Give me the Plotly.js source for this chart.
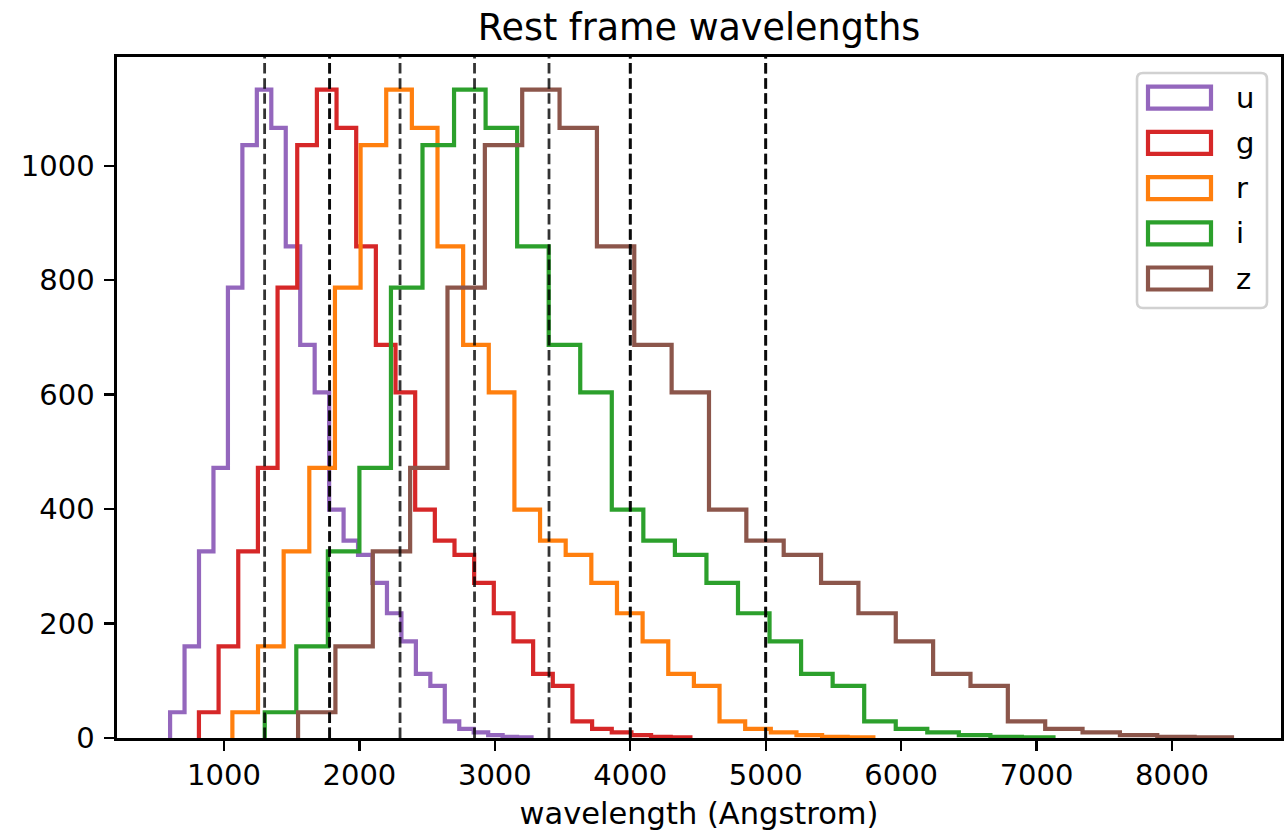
<!DOCTYPE html>
<html>
<head>
<meta charset="utf-8">
<script src="https://cdn.plot.ly/plotly-3.0.1.min.js"></script>
<style>
  html, body { margin: 0; padding: 0; background: #fff; }
  #chart { width: 1288px; height: 833px; }
</style>
</head>
<body>
<div id="chart"></div>
<script>
// Photometric bands and their plotting colours
const bands = ['u', 'g', 'r', 'i', 'z'];
const bandColors = ['#9467bd', '#d62728', '#ff7f0e', '#2ca02c', '#8c564b'];

// Histogram range per band (Angstrom): first and last bin edge
const binStart = [602, 815, 1062, 1301, 1547];
const binEnd = [3271, 4444, 5795, 7125, 8443];

// Objects per bin (25 equal-width bins); every band histograms the same
// objects, so the counts per bin are shared and only the edges move
const binCounts = [45, 160, 326, 472, 787, 1036, 1133, 1066, 859, 687, 604, 399,
                   345, 320, 271, 218, 169, 112, 91, 29, 16, 10, 5, 2, 1];

// Reference wavelengths marked with dashed lines (some drawn twice)
const markerWavelengths = [1300, 1780, 1780, 2300, 2850, 3400, 4000, 4000, 5000, 5000];

const FONT = 'DejaVu Sans, Liberation Sans, sans-serif';

// Figure geometry (pixels)
const W = 1288, H = 833;
const M = { l: 117, r: 7, t: 57, b: 95 };
const plotW = W - M.l - M.r;
const plotH = H - M.t - M.b;
const px2x = px => (px - M.l) / plotW;
const px2y = py => (H - M.b - py) / plotH;

// Step outline of each histogram
const traces = bands.map((band, k) => {
  const n = binCounts.length;
  const width = (binEnd[k] - binStart[k]) / n;
  const edges = binCounts.map((_, i) => binStart[k] + i * width).concat([binEnd[k]]);
  const x = [edges[0]].concat(edges.slice(0, n), [edges[n], edges[n]]);
  const y = [0].concat(binCounts, [binCounts[n - 1], 0]);
  return {
    type: 'scatter',
    mode: 'lines',
    name: band,
    x: x,
    y: y,
    line: { color: bandColors[k], width: 4.2, shape: 'hv' },
    showlegend: false,
    hoverinfo: 'skip'
  };
});

// Dashed vertical markers
const shapes = markerWavelengths.map(w => ({
  type: 'line',
  xref: 'x', yref: 'paper',
  x0: w, x1: w, y0: 0, y1: 1,
  line: { color: 'rgba(0,0,0,0.8)', width: 2.8, dash: '10.5px,4.6px' },
  layer: 'above'
}));

// Legend box with outlined patches
const lg = { left: 1137, right: 1267, top: 73, bottom: 308, r: 6 };
const lx0 = px2x(lg.left), lx1 = px2x(lg.right);
const ly1 = px2y(lg.top), ly0 = px2y(lg.bottom);
const rx = lg.r / plotW, ry = lg.r / plotH;
shapes.push({
  type: 'path',
  xref: 'paper', yref: 'paper',
  path: `M ${lx0 + rx},${ly1} L ${lx1 - rx},${ly1} Q ${lx1},${ly1} ${lx1},${ly1 - ry} ` +
        `L ${lx1},${ly0 + ry} Q ${lx1},${ly0} ${lx1 - rx},${ly0} ` +
        `L ${lx0 + rx},${ly0} Q ${lx0},${ly0} ${lx0},${ly0 + ry} ` +
        `L ${lx0},${ly1 - ry} Q ${lx0},${ly1} ${lx0 + rx},${ly1} Z`,
  line: { color: 'rgba(204,204,204,0.9)', width: 2.6 },
  fillcolor: 'rgba(255,255,255,0.8)',
  layer: 'above'
});

const annotations = [];
bands.forEach((band, k) => {
  const cy = 97.7 + 45.2 * k;
  shapes.push({
    type: 'rect',
    xref: 'paper', yref: 'paper',
    x0: px2x(1148), x1: px2x(1211),
    y0: px2y(cy + 11), y1: px2y(cy - 11),
    line: { color: bandColors[k], width: 4.2 },
    fillcolor: 'rgba(0,0,0,0)',
    layer: 'above'
  });
  annotations.push({
    xref: 'paper', yref: 'paper',
    x: px2x(1234), y: px2y(cy),
    xanchor: 'left', yanchor: 'middle',
    text: band,
    showarrow: false,
    font: { family: FONT, size: 29, color: '#000' }
  });
});

const layout = {
  width: W, height: H,
  margin: M,
  paper_bgcolor: '#fff',
  plot_bgcolor: '#fff',
  font: { family: FONT, size: 29, color: '#000' },
  title: {
    text: 'Rest frame wavelengths',
    font: { family: FONT, size: 36.5, color: '#000' },
    x: 0.5, xref: 'paper', xanchor: 'center',
    y: 1 - 27 / H, yref: 'container', yanchor: 'middle'
  },
  xaxis: {
    range: [210, 8805],
    tickmode: 'linear', tick0: 0, dtick: 1000,
    showgrid: false, zeroline: false,
    showline: true, mirror: true, linecolor: '#000', linewidth: 2.6,
    ticks: 'outside', ticklen: 10, tickwidth: 2.4, tickcolor: '#000',
    tickfont: { family: FONT, size: 29, color: '#000' },
    title: { text: 'wavelength (Angstrom)', font: { family: FONT, size: 30.5, color: '#000' }, standoff: 12 }
  },
  yaxis: {
    range: [0, 1190],
    tickmode: 'linear', tick0: 0, dtick: 200,
    showgrid: false, zeroline: false,
    showline: true, mirror: true, linecolor: '#000', linewidth: 2.6,
    ticks: 'outside', ticklen: 10, tickwidth: 2.4, tickcolor: '#000',
    ticklabelstandoff: 4,
    tickfont: { family: FONT, size: 29, color: '#000' }
  },
  shapes: shapes,
  annotations: annotations,
  showlegend: false
};

Plotly.newPlot('chart', traces, layout, { displayModeBar: false, staticPlot: true });
</script>
</body>
</html>
